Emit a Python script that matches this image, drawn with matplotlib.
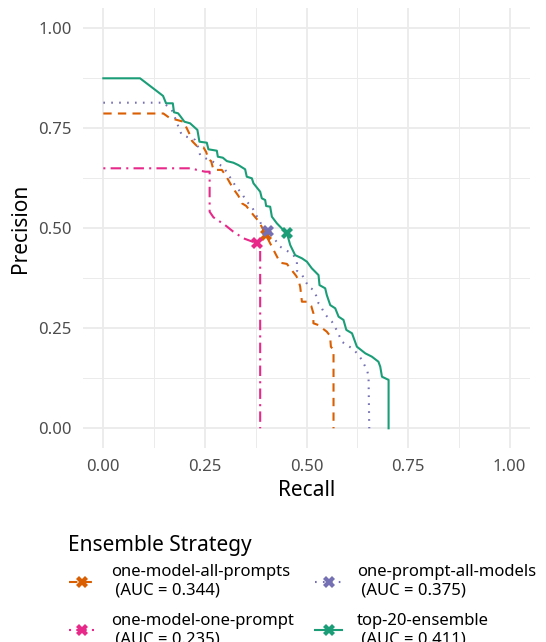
import matplotlib
matplotlib.use("Agg")
import matplotlib.pyplot as plt
import numpy as np

plt.rcParams['font.family'] = ['Noto Sans', 'DejaVu Sans']

# PR curves (recall, precision)
omap_recall = [0, 0.1478, 0.1643, 0.1808, 0.197, 0.2054, 0.2135, 0.2185, 0.230, 0.2463,
               0.253, 0.2586, 0.2653, 0.271, 0.2916, 0.302, 0.3121, 0.322, 0.3325, 0.341,
               0.3515, 0.3695, 0.3835, 0.398, 0.4148, 0.4254, 0.4352, 0.4517, 0.4665, 0.4746,
               0.480, 0.4845, 0.4887, 0.501, 0.5116, 0.517, 0.517, 0.5296, 0.534, 0.550,
               0.558, 0.560, 0.5665, 0.5665]
omap_prec = [0.787, 0.787, 0.775, 0.771, 0.7665, 0.75, 0.733, 0.718, 0.706, 0.7025,
             0.691, 0.6725, 0.668, 0.646, 0.646, 0.631, 0.6125, 0.596, 0.581, 0.5625,
             0.556, 0.533, 0.516, 0.4875, 0.454, 0.433, 0.414, 0.411, 0.3915, 0.381,
             0.371, 0.354, 0.3165, 0.3165, 0.306, 0.2875, 0.2625, 0.258, 0.254, 0.2415,
             0.231, 0.204, 0.196, 0.0]

omop_recall = [0, 0.2177, 0.230, 0.2505, 0.2616, 0.2616, 0.271, 0.2997, 0.320, 0.3448,
               0.3778, 0.386, 0.386]
omop_prec = [0.65, 0.65, 0.646, 0.6415, 0.6415, 0.5415, 0.5275, 0.508, 0.4915, 0.475,
             0.4625, 0.454, 0.0]

opam_recall = [0, 0.1478, 0.1685, 0.1766, 0.1847, 0.1931, 0.2135, 0.2259, 0.2333, 0.2382,
               0.2586, 0.2776, 0.2956, 0.3047, 0.3163, 0.3268, 0.341, 0.3515, 0.3655, 0.3761,
               0.390, 0.4064, 0.423, 0.4352, 0.4557, 0.468, 0.4764, 0.4764, 0.4894, 0.505,
               0.517, 0.524, 0.5296, 0.534, 0.5436, 0.5534, 0.5626, 0.5756, 0.587, 0.5995,
               0.612, 0.624, 0.6365, 0.6446, 0.650, 0.6527, 0.6544]
opam_prec = [0.814, 0.814, 0.796, 0.776, 0.754, 0.733, 0.726, 0.721, 0.703, 0.683,
             0.671, 0.663, 0.654, 0.638, 0.621, 0.603, 0.5875, 0.568, 0.554, 0.533,
             0.508, 0.493, 0.471, 0.454, 0.4415, 0.433, 0.416, 0.394, 0.383, 0.354,
             0.346, 0.331, 0.3125, 0.308, 0.288, 0.276, 0.2665, 0.243, 0.2165, 0.208,
             0.2, 0.188, 0.171, 0.154, 0.1415, 0.129, 0.0]

top20_recall = [0, 0.0904, 0.1355, 0.147, 0.1544, 0.171, 0.174, 0.184, 0.189, 0.1995,
                0.2135, 0.2315, 0.2365, 0.2547, 0.2586, 0.2793, 0.2818, 0.2941, 0.304, 0.320,
                0.3325, 0.349, 0.353, 0.3655, 0.3695, 0.386, 0.390, 0.3983, 0.4007, 0.4106,
                0.4148, 0.427, 0.443, 0.4517, 0.46, 0.472, 0.4887, 0.501, 0.513, 0.5296,
                0.532, 0.546, 0.550, 0.5584, 0.5707, 0.579, 0.591, 0.598, 0.612, 0.624,
                0.6446, 0.661, 0.677, 0.6815, 0.6857, 0.702, 0.702]
top20_prec = [0.875, 0.875, 0.84, 0.831, 0.8125, 0.8125, 0.79, 0.7875, 0.781, 0.7665,
              0.7625, 0.746, 0.7165, 0.714, 0.6975, 0.694, 0.679, 0.6765, 0.668, 0.664,
              0.658, 0.6475, 0.629, 0.625, 0.6125, 0.5915, 0.575, 0.5707, 0.5557, 0.554,
              0.529, 0.5125, 0.4957, 0.488, 0.458, 0.433, 0.425, 0.4165, 0.4, 0.383,
              0.358, 0.35, 0.333, 0.308, 0.3, 0.279, 0.271, 0.246, 0.2375, 0.204,
              0.1875, 0.179, 0.1665, 0.154, 0.129, 0.121, 0.0]

# operating points (recall, precision)
point_recall = [0.401, 0.378, 0.4064, 0.452]
point_prec = [0.483, 0.4625, 0.493, 0.489]

names = ["one-model-all-prompts", "one-model-one-prompt",
         "one-prompt-all-models", "top-20-ensemble"]
aucs = [0.344, 0.235, 0.375, 0.411]
colors = ["#D95F02", "#E7298A", "#7570B3", "#1B9E77"]
styles = [(0, (4, 3)), (0, (1, 2.5, 5, 2.5)), (0, (0.8, 3)), "-"]

curves = [(omap_recall, omap_prec), (omop_recall, omop_prec),
          (opam_recall, opam_prec), (top20_recall, top20_prec)]

fig = plt.figure(figsize=(5.46, 6.42), dpi=100)
ax = fig.add_axes([83 / 546, 1 - 448.3 / 642, 447 / 546, 440 / 642])

handles = []
for i in range(4):
    r, p = curves[i]
    ax.plot(r, p, color=colors[i], linestyle=styles[i], linewidth=1.5, zorder=3)
for i in range(4):
    ax.plot(point_recall[i], point_prec[i], marker="X", markersize=9,
            color=colors[i], markeredgewidth=0, linestyle="none", zorder=4)
    h, = ax.plot([], [], color=colors[i], linestyle=styles[i], linewidth=1.5,
                 marker="X", markersize=9, markeredgewidth=0)
    handles.append(h)

ax.set_xlim(-0.05, 1.05)
ax.set_ylim(-0.05, 1.05)
ticks = [0, 0.25, 0.5, 0.75, 1.0]
ax.set_xticks(ticks)
ax.set_yticks(ticks)
ax.set_xticklabels(["0.00", "0.25", "0.50", "0.75", "1.00"])
ax.set_yticklabels(["0.00", "0.25", "0.50", "0.75", "1.00"])
ax.set_xticks([0.125, 0.375, 0.625, 0.875], minor=True)
ax.set_yticks([0.125, 0.375, 0.625, 0.875], minor=True)
ax.grid(True, which="major", color="#EBEBEB", linewidth=1.3)
ax.grid(True, which="minor", color="#EBEBEB", linewidth=0.7)
ax.set_axisbelow(True)
ax.tick_params(which="both", length=0, labelsize=12, labelcolor="#4D4D4D", pad=8)
for s in ax.spines.values():
    s.set_visible(False)

ax.set_xlabel("Recall", fontsize=15, labelpad=3)
ax.set_ylabel("Precision", fontsize=15, labelpad=5)

fig.text(68 / 546, 1 - 545 / 642, "Ensemble Strategy", fontsize=15,
         ha="left", va="center")
labels = [f"{n}\n (AUC = {a:.3f})" for n, a in zip(names, aucs)]
leg = fig.legend(handles, labels, loc="upper left", ncol=2,
                 bbox_to_anchor=(54 / 546, 1 - 549.5 / 642),
                 frameon=False, fontsize=12, handlelength=1.6, handletextpad=0.9,
                 columnspacing=1.3, labelspacing=0.85)

fig.savefig("out.png", dpi=100)
